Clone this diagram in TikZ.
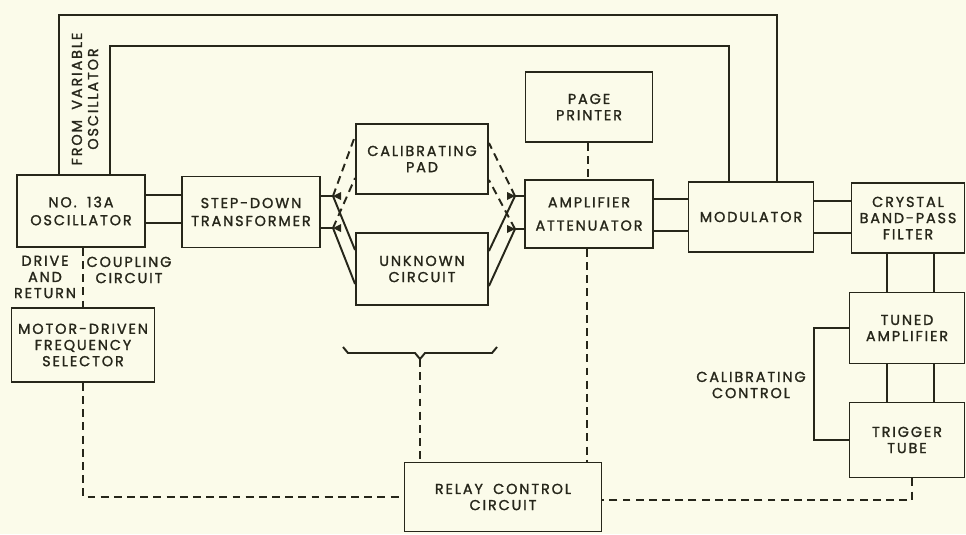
\documentclass[tikz,border=0pt]{standalone}
\usepackage{fontspec}
\newfontfamily\blkfont[LetterSpace=13, WordSpace=1.8, FakeBold=1.4]{Poppins}
\usetikzlibrary{arrows.meta, positioning, calc}
\definecolor{paper}{HTML}{FBFBEA}
\definecolor{ink}{HTML}{26261A}

\begin{document}
\begin{tikzpicture}[
    x=0.02cm, y=-0.02cm, line width=1.1pt, color=ink,
    blk/.style={draw, align=center, inner sep=0pt,
        font=\blkfont\fontsize{8.2}{9.2}\selectfont},
    lbl/.style={align=center, inner sep=0pt,
        font=\blkfont\fontsize{8.2}{9.2}\selectfont},
    ctl/.style={dash pattern=on 4.5pt off 3pt}
  ]
  \fill[paper] (0,0) rectangle (966,534);

  % main chain
  \node[blk, minimum width=2.56cm, minimum height=1.44cm] (osc) at (81,211)
    {NO. 13A\\[1pt]OSCILLATOR};
  \node[blk, minimum width=2.76cm, minimum height=1.42cm] (xfmr) at (251,212)
    {STEP-DOWN\\[1pt]TRANSFORMER};
  \node[blk, minimum width=2.64cm, minimum height=1.40cm] (pad) at (422,159)
    {CALIBRATING\\PAD};
  \node[blk, minimum width=2.64cm, minimum height=1.44cm] (unk) at (422,269)
    {UNKNOWN\\CIRCUIT};
  \node[blk, minimum width=2.56cm, minimum height=1.36cm] (amp) at (589,214)
    {AMPLIFIER\\[4pt]ATTENUATOR};
  \node[blk, minimum width=2.54cm, minimum height=1.40cm] (prnt) at (589,107)
    {PAGE\\PRINTER};
  \node[blk, minimum width=2.50cm, minimum height=1.40cm] (mod) at (751,217)
    {MODULATOR};
  \node[blk, minimum width=2.26cm, minimum height=1.40cm] (filt) at (908,218)
    {CRYSTAL\\BAND-PASS\\FILTER};
  \node[blk, minimum width=2.30cm, minimum height=1.42cm] (tuned) at (907,328)
    {TUNED\\AMPLIFIER};
  \node[blk, minimum width=2.30cm, minimum height=1.50cm] (trig) at (907,440)
    {TRIGGER\\TUBE};
  \node[blk, minimum width=2.86cm, minimum height=1.48cm] (motor) at (83,345)
    {MOTOR-DRIVEN\\FREQUENCY\\SELECTOR};
  \node[blk, minimum width=3.94cm, minimum height=1.38cm] (relay) at (503,497)
    {RELAY CONTROL\\CIRCUIT};

  % labels
  \node[lbl, rotate=90] (fromvar) at (85,99) {FROM VARIABLE\\OSCILLATOR};
  \node[lbl] (drive) at (45,277) {DRIVE\\AND\\RETURN};
  \node[lbl] (coupl) at (129,270) {COUPLING\\CIRCUIT};
  \node[lbl] (calctl) at (751,385) {CALIBRATING\\CONTROL};

  % loops from the oscillator over the top
  \draw (osc.north -| 59,0) -- (59,15) -- (777,15) -- (mod.north -| 777,0);
  \draw (osc.north -| 110,0) -- (110,46) -- (729,46) -- (mod.north -| 729,0);

  % line pairs
  \foreach \yy in {195,223}
    \draw (osc.east |- 0,\yy) -- (xfmr.west |- 0,\yy);
  \foreach \yy in {199,231}
    \draw (amp.east |- 0,\yy) -- (mod.west |- 0,\yy);
  \foreach \yy in {201,233}
    \draw (mod.east |- 0,\yy) -- (filt.west |- 0,\yy);
  \foreach \xx in {887,934} {
    \draw (filt.south -| \xx,0) -- (tuned.north -| \xx,0);
    \draw (tuned.south -| \xx,0) -- (trig.north -| \xx,0);
  }

  % switches
  \coordinate (lp1) at (333,196);
  \coordinate (lp2) at (333,228);
  \coordinate (rp1) at (515,196);
  \coordinate (rp2) at (515,229);
  \draw (xfmr.east |- lp1) -- (lp1);
  \draw (xfmr.east |- lp2) -- (lp2);
  \draw (amp.west |- rp1) -- (rp1);
  \draw (amp.west |- rp2) -- (rp2);
  \draw[ctl] (lp1) -- (pad.west |- 0,136);
  \draw[ctl] (lp2) -- (pad.west |- 0,178);
  \draw (lp1) -- (unk.west |- 0,250);
  \draw (lp2) -- (unk.west |- 0,284);
  \draw[ctl] (rp1) -- (pad.east |- 0,143);
  \draw[ctl] (rp2) -- (pad.east |- 0,180);
  \draw (rp1) -- (unk.east |- 0,251);
  \draw (rp2) -- (unk.east |- 0,286);
  \foreach \p in {lp1,lp2}
    \fill (\p) -- ++(8,-4) -- ++(0,8) -- cycle;
  \foreach \p in {rp1,rp2}
    \fill (\p) -- ++(-8,-4) -- ++(0,8) -- cycle;

  % calibrating control
  \draw (tuned.west |- 0,328) -| (814,385) |- (trig.west |- 0,440);

  % control lines
  \draw[ctl] (osc.south -| 83,0) -- (motor.north -| 83,0);
  \draw[ctl] (motor.south -| 83,0) |- (relay.west |- 0,497);
  \draw[ctl] (trig.south -| 912,0) |- (relay.east |- 0,500);
  \draw[ctl] (prnt.south -| 588,0) -- (amp.north -| 588,0);
  \draw[ctl] (amp.south -| 587,0) -- (relay.north -| 587,0);
  \coordinate (brk) at (420,359);
  \draw (343,347) -- (348,353) -- (415,353) -- (brk) -- (425,353)
    -- (492,353) -- (497,347);
  \draw[ctl] (brk) -- (relay.north -| brk);
\end{tikzpicture}
\end{document}
